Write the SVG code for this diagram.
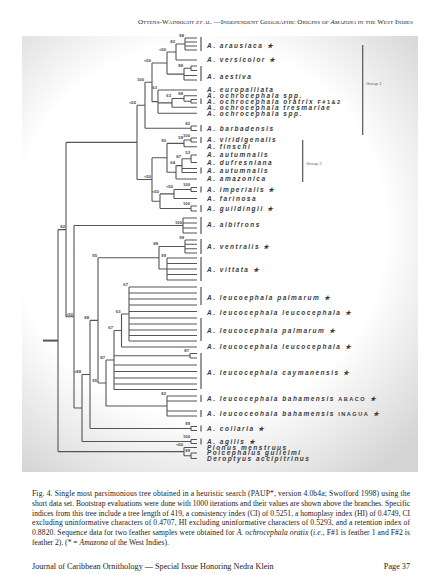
<svg xmlns="http://www.w3.org/2000/svg" width="433" height="575" viewBox="0 0 433 575">
<defs>
<radialGradient id="bg" cx="200" cy="230" r="300" gradientUnits="userSpaceOnUse">
<stop offset="0.62" stop-color="#ffffff"/>
<stop offset="1" stop-color="#d4d4d4"/>
</radialGradient>
</defs>
<style>
.ln{fill:none;stroke:#555;stroke-width:1.1}
.bar{stroke:#555;stroke-width:1.2}
.tx{font-family:"Liberation Sans",Arial,sans-serif;font-size:6.5px;font-style:italic;font-weight:bold;letter-spacing:1.5px;fill:#3a3a3a}
.up{font-style:normal;font-size:5.6px}
.bs{font-family:"Liberation Sans",Arial,sans-serif;font-size:4.2px;font-weight:bold;fill:#444;text-anchor:end}
.grp{font-family:"Liberation Sans",Arial,sans-serif;font-size:4.3px;fill:#666}
.cap{font-family:"Liberation Serif","Times New Roman",serif;font-size:7.6px;fill:#222}
.hd{font-family:"Liberation Serif","Times New Roman",serif;font-size:6.6px;font-variant:small-caps;fill:#222}
.ft{font-family:"Liberation Serif","Times New Roman",serif;font-size:8.2px;fill:#222}
</style>
<rect width="433" height="575" fill="#fff"/>
<rect x="22" y="36" width="396" height="436" fill="url(#bg)"/>
<text class="hd" x="138" y="24" textLength="275" lengthAdjust="spacingAndGlyphs">Ottens-Wainright <tspan font-style="italic">et al.</tspan> —Independent Geographic Origins of <tspan font-style="italic">Amazona</tspan> in the West Indies</text>

<g id="connectors" class="ln">
<path d="M43,340.6H58" stroke-width="2"/>
<path d="M58,229.6V451.6M58,229.6H66M58,451.6H184"/>
<path d="M66,142.4V316.75M66,142.4H137M66,316.75H74"/>
<path d="M137,105.3V179.5M137,105.3H145M137,179.5H152"/>
<path d="M145,82.3V128.25M145,82.3H152M145,128.25H191M191,126V130.5M191,126H197M191,130.5H197"/>
<path d="M152,63V101.65M152,63H167M152,101.65H158"/>
<path d="M167,52V74.1M167,52H176M167,74.1H184"/>
<path d="M176,44V60M176,44H185M176,60H197"/>
<path d="M185,38V50M185,38H197M185,42H197M185,46H197M185,50H197"/>
<path d="M184,68.25V80M184,68.25H191M184,75.5H197M184,80H197M191,66V70.5M191,66H197M191,70.5H197"/>
<path d="M158,90V113.3M158,90H197M158,102.9H172M158,113.3H197"/>
<path d="M172,98.5V107.3M172,98.5H184M172,107.3H197"/>
<path d="M184,95.7V101.25M184,95.7H197M184,101.25H191M191,99.5V103M191,99.5H197M191,103H197"/>
<path d="M152,157.8V201.2M152,157.8H167M152,201.2H160"/>
<path d="M167,143.35V172.3M167,143.35H184M167,172.3H176"/>
<path d="M184,140V146.7M184,140H191M184,146.7H197M191,138V142M191,138H197M191,142H197"/>
<path d="M176,165.6V179M176,165.6H182M176,179H197"/>
<path d="M182,158.75V172.5M182,158.75H191M182,168.5H197M182,172.5H197M191,155V162.5M191,155H197M191,162.5H197"/>
<path d="M160,193.9V208.5M160,193.9H174M160,208.5H191M191,206V211M191,206H197M191,211H197"/>
<path d="M174,189.5V198.5M174,189.5H191M174,198.5H197M191,187.5V191.5M191,187.5H197M191,191.5H197"/>
<path d="M74,225.5V408M74,225.5H183M74,408H82"/>
<path d="M183,218V233M183,218H197M183,223H197M183,228H197M183,233H197"/>
<path d="M82,374.45V441.5M82,374.45H90M82,441.5H191M191,439.5V443.5M191,439.5H197M191,443.5H197"/>
<path d="M90,320.4V428.5M90,320.4H98M90,428.5H191M191,426.5V430.5M191,426.5H197M191,430.5H197"/>
<path d="M98,257.75V383M98,257.75H159M98,383H106"/>
<path d="M159,246.5V269M159,246.5H185M159,269H167"/>
<path d="M185,240V253M185,240H197M185,244.3H197M185,248.7H197M185,253H197"/>
<path d="M167,258V280M167,258H197M167,263.5H197M167,269H197M167,274.5H197M167,280H197"/>
<path d="M106,360V406M106,360H114M106,406H167"/>
<path d="M167,396V416M167,396H197M167,401H197M167,411H197M167,416H197"/>
<path d="M114,330.5V389.5M114,330.5H121.5M114,355.75H190M114,365H197M114,371.5H197M114,378H197M114,384H197M114,389.5H197"/>
<path d="M190,353.5V358M190,353.5H197M190,358H197"/>
<path d="M121.5,314V347M121.5,314H129M121.5,347H197"/>
<path d="M129,287V341M129,287H197M129,293H197M129,299H197M129,305H197M129,311.5H197M129,318H197M129,324H197M129,330H197M129,335.5H197M129,341H197"/>
<path d="M184,447.5V455.75M184,447.5H197M184,455.75H191M191,453V458.5M191,453H197M191,458.5H197"/>
</g>

<g id="bootstrap" class="bs">
<text x="184" y="36.8">88</text>
<text x="175" y="42.8">82</text>
<text x="183" y="67">88</text>
<text x="166" y="50.8">&lt;50</text>
<text x="151" y="61.8">&lt;50</text>
<text x="157" y="88.8">63</text>
<text x="171" y="97.3">63</text>
<text x="183" y="94.5">88</text>
<text x="190" y="124.8">82</text>
<text x="144" y="81.1">100</text>
<text x="136" y="104.1">&lt;50</text>
<text x="190" y="136.8">100</text>
<text x="183" y="138.8">59</text>
<text x="166" y="142.1">90</text>
<text x="190" y="153.8">53</text>
<text x="181" y="157.5">87</text>
<text x="175" y="164.4">64</text>
<text x="151" y="178.3">&lt;50</text>
<text x="173" y="188.3">&lt;50</text>
<text x="159" y="192.7">&lt;50</text>
<text x="190" y="186.3">100</text>
<text x="190" y="204.8">100</text>
<text x="65" y="228.4">82</text>
<text x="182" y="224.3">100</text>
<text x="184" y="238.8">99</text>
<text x="158" y="245.3">88</text>
<text x="166" y="256.8">99</text>
<text x="97" y="256.5">95</text>
<text x="73" y="315.5">&lt;50</text>
<text x="128" y="285.8">67</text>
<text x="120.5" y="312.8">63</text>
<text x="113" y="329.3">67</text>
<text x="189" y="352.3">87</text>
<text x="105" y="358.8">87</text>
<text x="166" y="394.8">82</text>
<text x="97" y="381.8">95</text>
<text x="89" y="319.2">88</text>
<text x="190" y="425.3">99</text>
<text x="81" y="373.3">&lt;88</text>
<text x="190" y="438.3">100</text>
<text x="183" y="446.3">&lt;50</text>
<text x="190" y="451.8">89</text>
</g>

<g id="groups">
<path class="bar" d="M362.7,45V135M302.7,140V182"/>
<text class="grp" x="366" y="84.5">Group 1</text>
<text class="grp" x="306" y="164.5">Group 2</text>
</g>

<g id="n-arausiaca"><path class="bar" d="M201,37V51"/><text class="tx" x="207" y="48.3">A. arausiaca ★</text></g>
<g id="n-versicolor"><text class="tx" x="207" y="62.3">A. versicolor ★</text></g>
<g id="n-aestiva"><path class="bar" d="M201,66V81"/><text class="tx" x="207" y="79">A. aestiva</text></g>
<g id="n-europalliata"><text class="tx" x="207" y="92.3">A. europalliata</text></g>
<g id="n-ochro1"><text class="tx" x="207" y="98">A. ochrocephala spp.</text></g>
<g id="n-oratrix"><path class="bar" d="M201,98.5V104"/><text class="tx" x="207" y="103.6">A. ochrocephala oratrix <tspan class="up">F#1&amp;2</tspan></text></g>
<g id="n-tresmariae"><text class="tx" x="207" y="109.6">A. ochrocephala tresmariae</text></g>
<g id="n-ochro2"><text class="tx" x="207" y="115.6">A. ochrocephala spp.</text></g>
<g id="n-barbadensis"><path class="bar" d="M201,125V131.5"/><text class="tx" x="207" y="130.8">A. barbadensis</text></g>
<g id="n-viridigenalis"><path class="bar" d="M201,137V143"/><text class="tx" x="207" y="142.3">A. viridigenalis</text></g>
<g id="n-finschi"><text class="tx" x="207" y="149">A. finschi</text></g>
<g id="n-autumnalis1"><text class="tx" x="207" y="156.8">A. autumnalis</text></g>
<g id="n-dufresniana"><text class="tx" x="207" y="164.8">A. dufresniana</text></g>
<g id="n-autumnalis2"><path class="bar" d="M201,167.5V173.5"/><text class="tx" x="207" y="172.8">A. autumnalis</text></g>
<g id="n-amazonica"><text class="tx" x="207" y="181.3">A. amazonica</text></g>
<g id="n-imperialis"><path class="bar" d="M201,186.5V192.5"/><text class="tx" x="207" y="191.8">A. imperialis ★</text></g>
<g id="n-farinosa"><text class="tx" x="207" y="200.8">A. farinosa</text></g>
<g id="n-guildingii"><path class="bar" d="M201,205V212"/><text class="tx" x="207" y="211">A. guildingii ★</text></g>
<g id="n-albifrons"><path class="bar" d="M201,217V234"/><text class="tx" x="207" y="227.3">A. albifrons</text></g>
<g id="n-ventralis"><path class="bar" d="M201,239V254"/><text class="tx" x="207" y="249.3">A. ventralis ★</text></g>
<g id="n-vittata"><path class="bar" d="M201,257V281"/><text class="tx" x="207" y="271.8">A. vittata ★</text></g>
<g id="n-palmarum1"><path class="bar" d="M201,287V305"/><text class="tx" x="207" y="299.8">A. leucoephala palmarum ★</text></g>
<g id="n-leuco1"><text class="tx" x="207" y="314.8">A. leucocephala leucocephala ★</text></g>
<g id="n-palmarum2"><path class="bar" d="M201,318V341"/><text class="tx" x="207" y="332.8">A. leucocephala palmarum ★</text></g>
<g id="n-leuco2"><text class="tx" x="207" y="349.3">A. leucocephala leucocephala ★</text></g>
<g id="n-caymanensis"><path class="bar" d="M201,353V389"/><text class="tx" x="207" y="375.3">A. leucocephala caymanensis ★</text></g>
<g id="n-abaco"><path class="bar" d="M201,395V402"/><text class="tx" x="207" y="400.8">A. leucocephala bahamensis <tspan class="up">ABACO</tspan> ★</text></g>
<g id="n-inagua"><path class="bar" d="M201,410V417"/><text class="tx" x="207" y="416.3">A. leucoceohala bahamensis <tspan class="up">INAGUA</tspan> ★</text></g>
<g id="n-collaria"><path class="bar" d="M201,425.5V431.5"/><text class="tx" x="207" y="430.8">A. collaria ★</text></g>
<g id="n-agilis"><path class="bar" d="M201,438.5V444.5"/><text class="tx" x="207" y="443.8">A. agilis ★</text></g>
<g id="n-pionus"><text class="tx" x="207" y="449.8">Pionus menstruus</text></g>
<g id="n-poicephalus"><text class="tx" x="207" y="455.3">Poicephalus gulielmi</text></g>
<g id="n-deroptyus"><text class="tx" x="207" y="460.8">Deroptyus accipitrinus</text></g>

<g id="caption" class="cap">
<text x="32" y="496" textLength="378" lengthAdjust="spacing">Fig. 4. Single most parsimonious tree obtained in a heuristic search (PAUP*, version 4.0b4a; Swofford 1998) using the</text>
<text x="32" y="505.8" textLength="378" lengthAdjust="spacing">short data set. Bootstrap evaluations were done with 1000 iterations and their values are shown above the branches. Specific</text>
<text x="32" y="515.6" textLength="378" lengthAdjust="spacing">indices from this tree include a tree length of 419, a consistency index (CI) of 0.5251, a homoplasy index (HI) of 0.4749, CI</text>
<text x="32" y="525.4" textLength="378" lengthAdjust="spacing">excluding uninformative characters of 0.4707, HI excluding uninformative characters of 0.5293, and a retention index of</text>
<text x="32" y="535.2" textLength="378" lengthAdjust="spacing">0.8820. Sequence data for two feather samples were obtained for <tspan font-style="italic">A. ochrocephala oratix</tspan> (<tspan font-style="italic">i.e.</tspan>, F#1 is feather 1 and F#2 is</text>
<text x="32" y="545">feather 2). (* = <tspan font-style="italic">Amazona</tspan> of the West Indies).</text>
</g>
<g id="footer" class="ft">
<text x="32" y="569">Journal of Caribbean Ornithology — Special Issue Honoring Nedra Klein</text>
<text x="410" y="569" text-anchor="end">Page 37</text>
</g>
</svg>
